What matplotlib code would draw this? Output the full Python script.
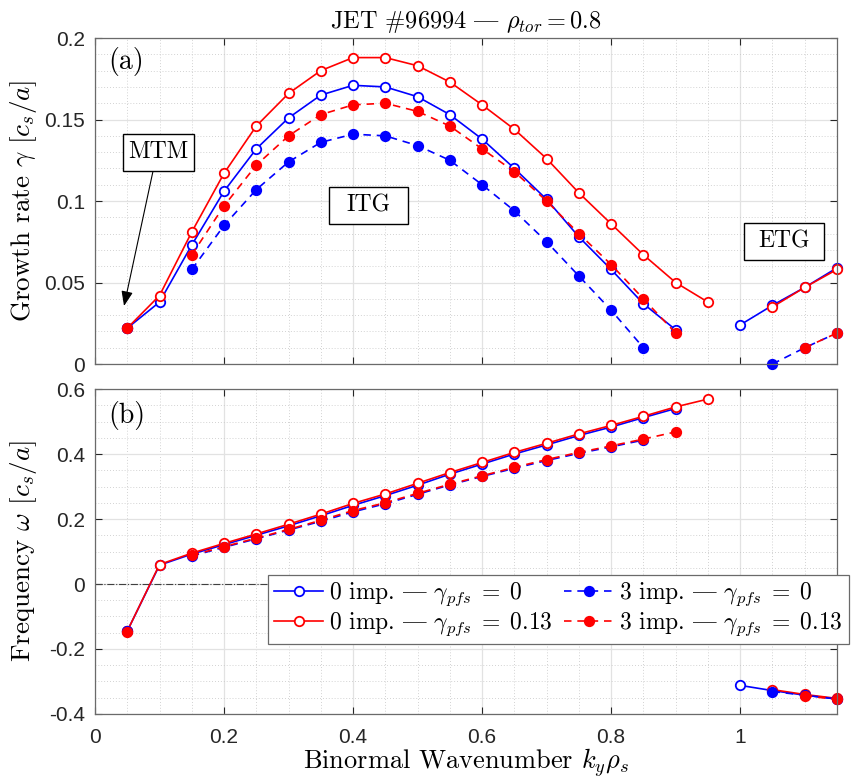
import numpy as np
import matplotlib
matplotlib.use("Agg")
import matplotlib.pyplot as plt
import matplotlib.transforms as mtransforms
from matplotlib.patches import Rectangle
from matplotlib.ticker import MultipleLocator, FuncFormatter

plt.rcParams['mathtext.fontset'] = 'cm'

nan = np.nan

# binormal wavenumber k_y rho_s
ky = [0.05, 0.10, 0.15, 0.20, 0.25, 0.30, 0.35, 0.40, 0.45, 0.50, 0.55, 0.60,
      0.65, 0.70, 0.75, 0.80, 0.85, 0.90, 0.95, 1.00, 1.05, 1.10, 1.15]

# growth rate gamma [c_s/a]
gamma_0imp_pfs0 = [0.022, 0.038, 0.073, 0.106, 0.132, 0.151, 0.165, 0.171, 0.170, 0.164, 0.153, 0.138,
                   0.120, 0.101, 0.078, 0.058, 0.037, 0.021, nan, 0.024, 0.036, 0.047, 0.059]
gamma_0imp_pfs13 = [0.022, 0.042, 0.081, 0.117, 0.146, 0.166, 0.180, 0.188, 0.188, 0.183, 0.173, 0.159,
                    0.144, 0.126, 0.105, 0.086, 0.067, 0.050, 0.038, nan, 0.035, 0.047, 0.058]
gamma_3imp_pfs0 = [0.022, nan, 0.058, 0.085, 0.107, 0.124, 0.136, 0.141, 0.140, 0.134, 0.125, 0.110,
                   0.094, 0.075, 0.054, 0.033, 0.010, nan, nan, nan, 0.000, 0.010, 0.019]
gamma_3imp_pfs13 = [0.022, nan, 0.067, 0.097, 0.122, 0.140, 0.153, 0.159, 0.160, 0.155, 0.146, 0.132,
                    0.118, 0.100, 0.080, 0.061, 0.040, 0.019, nan, nan, nan, 0.010, 0.019]

# real frequency omega [c_s/a]
omega_0imp_pfs0 = [-0.145, 0.058, 0.092, 0.121, 0.150, 0.179, 0.210, 0.242, 0.272, 0.304, 0.338, 0.369,
                   0.400, 0.428, 0.457, 0.483, 0.512, 0.540, nan, -0.312, -0.328, -0.342, -0.354]
omega_0imp_pfs13 = [-0.145, 0.060, 0.095, 0.125, 0.154, 0.184, 0.215, 0.248, 0.277, 0.310, 0.343, 0.374,
                    0.405, 0.433, 0.462, 0.488, 0.516, 0.545, 0.569, nan, -0.325, -0.340, -0.352]
omega_3imp_pfs0 = [-0.145, nan, 0.086, 0.113, 0.139, 0.166, 0.193, 0.222, 0.247, 0.276, 0.305, 0.331,
                   0.356, 0.380, 0.402, 0.422, 0.443, nan, nan, nan, -0.331, -0.342, -0.354]
omega_3imp_pfs13 = [-0.148, nan, 0.088, 0.115, 0.141, 0.168, 0.196, 0.226, 0.250, 0.279, 0.307, 0.333,
                    0.359, 0.383, 0.405, 0.425, 0.446, 0.468, nan, nan, nan, -0.344, -0.355]

# in the bundled cmr10 (OT1 layout) the '|' slot holds the em dash
DASH = '|'
labels = ['0 imp. %s $\\gamma_{pfs}\\;=\\;0$' % DASH, '0 imp. %s $\\gamma_{pfs}\\;=\\;0.13$' % DASH,
          '3 imp. %s $\\gamma_{pfs}\\;=\\;0$' % DASH, '3 imp. %s $\\gamma_{pfs}\\;=\\;0.13$' % DASH]

SERIF = ['cmr10', 'DejaVu Serif']
TICKFONT = ['Liberation Sans', 'DejaVu Sans']

styles = [
    dict(color='blue', ls='-', mfc='white'),
    dict(color='red', ls='-', mfc='white'),
    dict(color='blue', ls=(0, (4.5, 3.5)), mfc='blue'),
    dict(color='red', ls=(0, (4.5, 3.5)), mfc='red'),
]

fig = plt.figure(figsize=(8.55, 7.81), dpi=100)
ax1 = fig.add_axes([0.1111, 0.5339, 0.8678, 0.4174])
ax2 = fig.add_axes([0.1111, 0.0858, 0.8678, 0.4161])

def style_axes(ax, ymaj, ymin):
    ax.set_xlim(0, 1.15)
    ax.xaxis.set_major_locator(MultipleLocator(0.2))
    ax.xaxis.set_minor_locator(MultipleLocator(0.05))
    ax.yaxis.set_major_locator(MultipleLocator(ymaj))
    ax.yaxis.set_minor_locator(MultipleLocator(ymin))
    fmt = FuncFormatter(lambda v, p: '%g' % round(v, 6))
    ax.xaxis.set_major_formatter(fmt)
    ax.yaxis.set_major_formatter(fmt)
    ax.set_axisbelow(True)
    ax.grid(True, which='major', color='#e2e2e2', lw=0.9, ls='-')
    ax.grid(True, which='minor', color='#c4c4c4', lw=0.6, ls=(0, (1, 2.5)))
    ax.tick_params(which='major', direction='in', length=5, width=0.8, color='#262626',
                   top=True, right=True, labelsize=15, labelcolor='#262626', pad=7)
    ax.tick_params(axis='x', which='major', pad=10)
    ax.tick_params(which='minor', length=0)
    for t in ax.get_xticklabels() + ax.get_yticklabels():
        t.set_fontfamily(TICKFONT)
    for s in ax.spines.values():
        s.set_color('#6a6a6a')
        s.set_linewidth(0.9)

style_axes(ax1, 0.05, 0.01)
style_axes(ax2, 0.2, 0.05)
ax1.set_ylim(0, 0.2)
ax2.set_ylim(-0.4, 0.6)
ax1.tick_params(labelbottom=False)

ax2.axhline(0, color='#404040', lw=0.8, ls='-.', zorder=1)

gammas = [gamma_0imp_pfs0, gamma_0imp_pfs13, gamma_3imp_pfs0, gamma_3imp_pfs13]
omegas = [omega_0imp_pfs0, omega_0imp_pfs13, omega_3imp_pfs0, omega_3imp_pfs13]
handles = []
for g, w, st, lab in zip(gammas, omegas, styles, labels):
    ax1.plot(ky, g, lw=1.2, marker='o', ms=6.8, mew=1.3, mec=st['color'], clip_on=False,
             color=st['color'], ls=st['ls'], mfc=st['mfc'])
    h, = ax2.plot(ky, w, lw=1.2, marker='o', ms=6.8, mew=1.3, mec=st['color'], clip_on=False,
                  color=st['color'], ls=st['ls'], mfc=st['mfc'], label=lab)
    handles.append(h)

ax1.set_title('JET #96994 %s $\\rho_{tor} = 0.8$' % DASH, fontfamily=SERIF, fontsize=17.5, pad=7)
ax1.set_ylabel('Growth rate $\\gamma$ $[c_s/a]$', fontfamily=SERIF, fontsize=19.5)
ax2.set_ylabel('Frequency $\\omega$ $[c_s/a]$', fontfamily=SERIF, fontsize=19.5)
ax2.set_xlabel('Binormal Wavenumber $k_y \\rho_s$', fontfamily=SERIF, fontsize=19)
ax1.yaxis.set_label_coords(-0.076, 0.5)
ax2.yaxis.set_label_coords(-0.076, 0.5)
ax2.xaxis.set_label_coords(0.5, -0.1)

ax1.text(0.02, 0.1855, '(a)', fontfamily=SERIF, fontsize=20, ha='left', va='center')
ax2.text(0.02, 0.52, '(b)', fontfamily=SERIF, fontsize=20, ha='left', va='center')

def boxed(ax, x, y, s, w_px, h_px):
    ax.text(x, y, s, fontfamily=SERIF, fontsize=17, ha='center', va='center', zorder=5)
    tr = mtransforms.Affine2D().scale(1 / fig.dpi) + fig.dpi_scale_trans + \
        mtransforms.ScaledTranslation(x, y, ax.transData)
    ax.add_patch(Rectangle((-w_px / 2, -h_px / 2), w_px, h_px, transform=tr,
                           facecolor='white', edgecolor='black', lw=1.0, zorder=4))

boxed(ax1, 0.0983, 0.130, 'MTM', 71, 37)
boxed(ax1, 0.4236, 0.0971, 'ITG', 79, 37)
boxed(ax1, 1.0685, 0.0750, 'ETG', 80, 37)
ax1.annotate('', xy=(0.045, 0.0356), xytext=(0.09, 0.1185),
             arrowprops=dict(arrowstyle='-|>,head_length=0.9,head_width=0.35',
                             color='black', lw=0.8, shrinkA=0, shrinkB=0))

leg = ax2.legend(handles=handles, ncol=2, loc='upper left',
                 bbox_to_anchor=(268 / 855, 1 - 575 / 781), bbox_transform=fig.transFigure,
                 prop=dict(family=SERIF, size=17), fancybox=False, framealpha=1,
                 edgecolor='#6a6a6a', borderpad=0.25, labelspacing=0.1,
                 handlelength=2.1, handletextpad=0.25, columnspacing=0.45, borderaxespad=0)
leg.get_frame().set_linewidth(0.9)

fig.savefig('out.png', dpi=100)
